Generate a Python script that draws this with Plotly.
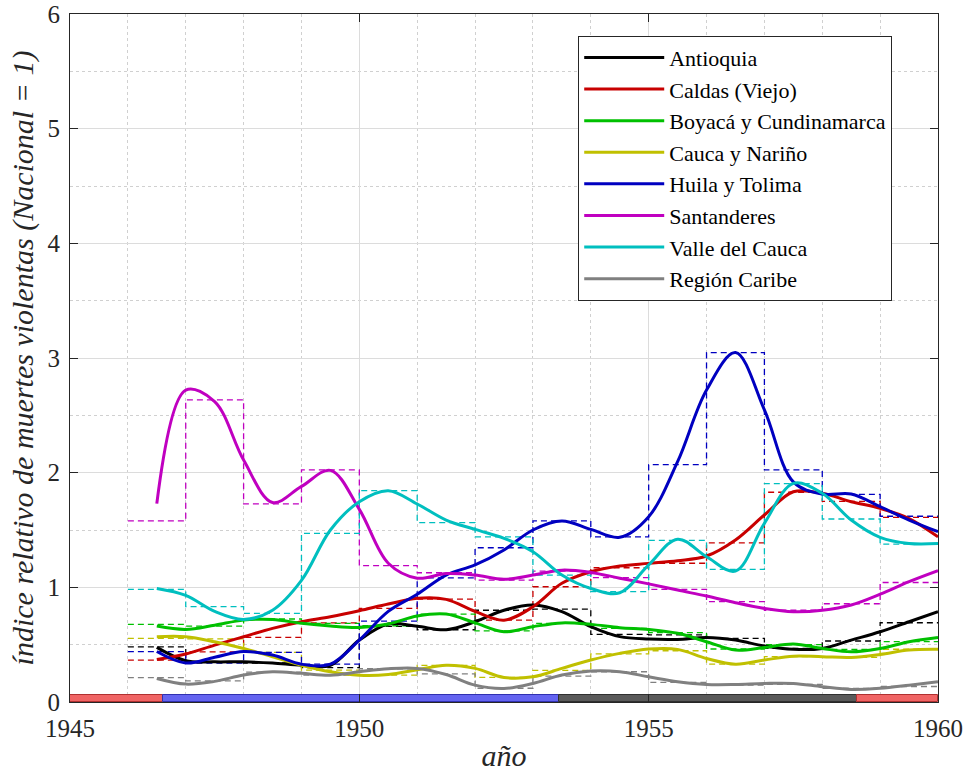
import plotly.graph_objects as go

# annual values (dashed steps), one per year 1946..1959
years = [1946, 1947, 1948, 1949, 1950, 1951, 1952, 1953, 1954, 1955, 1956, 1957, 1958, 1959]

antioquia = [0.48, 0.35, 0.34, 0.30, 0.66, 0.63, 0.80, 0.81, 0.59, 0.585, 0.555, 0.467, 0.532, 0.691]
caldas = [0.366, 0.438, 0.563, 0.69, 0.816, 0.897, 0.714, 1.005, 1.171, 1.21, 1.387, 1.829, 1.75, 1.61]
boyaca = [0.677, 0.662, 0.724, 0.686, 0.665, 0.767, 0.62, 0.686, 0.642, 0.605, 0.462, 0.50, 0.459, 0.526]
cauca = [0.555, 0.55, 0.433, 0.278, 0.235, 0.32, 0.214, 0.275, 0.42, 0.447, 0.33, 0.395, 0.39, 0.46]
huila = [0.44, 0.34, 0.432, 0.33, 0.706, 1.083, 1.345, 1.579, 1.44, 2.07, 3.047, 2.024, 1.81, 1.62]
santanderes = [1.579, 2.634, 1.727, 2.024, 1.189, 1.127, 1.063, 1.142, 1.084, 0.983, 0.875, 0.80, 0.857, 1.042]
valle = [0.982, 0.831, 0.773, 1.47, 1.843, 1.564, 1.44, 1.107, 0.962, 1.41, 1.156, 1.905, 1.596, 1.377]
caribe = [0.212, 0.185, 0.26, 0.235, 0.29, 0.245, 0.12, 0.226, 0.264, 0.171, 0.147, 0.153, 0.118, 0.135]

# smoothed curves
curve_years = [1946.5, 1947, 1947.5, 1948, 1948.5, 1949, 1949.5, 1950, 1950.5, 1951,
               1951.5, 1952, 1952.5, 1953, 1953.5, 1954, 1954.5, 1955, 1955.5, 1956,
               1956.5, 1957, 1957.5, 1958, 1958.5, 1959, 1959.5, 1960]

antioquia_s = [0.476, 0.36, 0.35, 0.35, 0.34, 0.32, 0.32, 0.54, 0.68, 0.66, 0.63, 0.70, 0.80, 0.846,
               0.788, 0.657, 0.57, 0.549, 0.546, 0.563, 0.54, 0.488, 0.459, 0.467, 0.54, 0.613, 0.70, 0.787]
caldas_s = [0.37, 0.418, 0.496, 0.569, 0.642, 0.70, 0.744, 0.796, 0.854, 0.904, 0.895, 0.79, 0.714, 0.83,
            1.035, 1.136, 1.186, 1.209, 1.232, 1.273, 1.413, 1.631, 1.834, 1.82, 1.747, 1.689, 1.60, 1.44]
boyaca_s = [0.662, 0.633, 0.67, 0.714, 0.72, 0.686, 0.662, 0.65, 0.68, 0.75, 0.767, 0.69, 0.613, 0.657,
            0.69, 0.677, 0.648, 0.633, 0.599, 0.526, 0.453, 0.476, 0.505, 0.467, 0.438, 0.467, 0.526, 0.563]
cauca_s = [0.569, 0.569, 0.525, 0.467, 0.394, 0.32, 0.263, 0.234, 0.24, 0.28, 0.32, 0.293, 0.214, 0.22,
           0.293, 0.366, 0.424, 0.462, 0.459, 0.38, 0.33, 0.366, 0.40, 0.395, 0.389, 0.415, 0.453, 0.459]
huila_s = [0.44, 0.34, 0.39, 0.44, 0.41, 0.33, 0.33, 0.54, 0.79, 0.94, 1.107, 1.195, 1.326, 1.50,
           1.578, 1.505, 1.436, 1.616, 2.096, 2.72, 3.047, 2.547, 1.92, 1.814, 1.814, 1.703, 1.587, 1.485]
santanderes_s = [1.73, 2.72, 2.62, 2.11, 1.74, 1.88, 2.02, 1.68, 1.21, 1.08, 1.12, 1.107, 1.07, 1.107,
                 1.15, 1.13, 1.08, 1.03, 0.976, 0.924, 0.866, 0.816, 0.787, 0.80, 0.846, 0.94, 1.05, 1.146]
valle_s = [0.99, 0.93, 0.79, 0.72, 0.80, 1.06, 1.50, 1.747, 1.843, 1.727, 1.587, 1.505, 1.427, 1.31,
           1.107, 0.99, 0.953, 1.195, 1.42, 1.267, 1.142, 1.558, 1.907, 1.82, 1.587, 1.436, 1.383, 1.383]
caribe_s = [0.205, 0.156, 0.18, 0.235, 0.264, 0.25, 0.234, 0.264, 0.29, 0.293, 0.24, 0.147, 0.118, 0.162,
            0.235, 0.27, 0.264, 0.22, 0.177, 0.153, 0.153, 0.162, 0.162, 0.133, 0.11, 0.12, 0.147, 0.177]

names = ["Antioquia", "Caldas (Viejo)", "Boyacá y Cundinamarca", "Cauca y Nariño",
         "Huila y Tolima", "Santanderes", "Valle del Cauca", "Región Caribe"]
colors = ["#000000", "#c80000", "#00c000", "#c0c000", "#0000c0", "#c000c0", "#00bfbf", "#808080"]
annual = [antioquia, caldas, boyaca, cauca, huila, santanderes, valle, caribe]
smooth = [antioquia_s, caldas_s, boyaca_s, cauca_s, huila_s, santanderes_s, valle_s, caribe_s]

# periods shown as a coloured band on the x axis
period_start = [1945, 1946.6, 1953.45, 1958.6]
period_end = [1946.6, 1953.45, 1958.6, 1960]
period_fill = ["#f06464", "#6464f0", "#5a5a5a", "#f06464"]
period_edge = ["#b03030", "#3030b0", "#303030", "#b03030"]
band_height = 0.058

FONT = "Liberation Serif"
AXCOL = "#262626"

fig = go.Figure()

# dashed annual steps
for vals, col in zip(annual, colors):
    fig.add_trace(go.Scatter(
        x=years + [years[-1] + 1], y=vals + [vals[-1]],
        mode="lines", line=dict(color=col, width=1.3, dash="6px,4px", shape="hv"),
        showlegend=False, hoverinfo="skip"
    ))

# smoothed lines
for vals, col, name in zip(smooth, colors, names):
    fig.add_trace(go.Scatter(
        x=curve_years, y=vals, name=name,
        mode="lines", line=dict(color=col, width=3, shape="spline", smoothing=1.0)
    ))

# period band
for s, e, fc, ec in zip(period_start, period_end, period_fill, period_edge):
    fig.add_trace(go.Bar(
        x=[(s + e) / 2], y=[band_height], width=[e - s], base=0,
        marker=dict(color=fc, line=dict(color=ec, width=1)),
        showlegend=False, hoverinfo="skip"
    ))

axis_common = dict(
    showline=True, linecolor=AXCOL, linewidth=1, mirror="ticks",
    ticks="inside", ticklen=8, tickcolor=AXCOL,
    showgrid=True, gridcolor="#dcdcdc", gridwidth=1,
    zeroline=False,
    tickfont=dict(size=25, color=AXCOL),
    ticklabeloverflow="allow",
    automargin=False,
)

fig.update_xaxes(
    range=[1945, 1960], tickvals=[1945, 1950, 1955, 1960],
    minor=dict(dtick=1, tick0=1945, showgrid=True, gridcolor="#d0d0d0", griddash="dot", ticks=""),
    title=dict(text="<i>año</i>", font=dict(size=30, color=AXCOL), standoff=3),
    ticklabelstandoff=4,
    **axis_common
)
fig.update_yaxes(
    range=[0, 6], tickvals=[0, 1, 2, 3, 4, 5, 6],
    minor=dict(dtick=0.5, tick0=0, showgrid=True, gridcolor="#d0d0d0", griddash="dot", ticks=""),
    title=dict(text="<i>índice relativo de muertes violentas (Nacional = 1)</i>",
               font=dict(size=30, color=AXCOL), standoff=5),
    ticklabelstandoff=4,
    **axis_common
)

fig.update_layout(
    width=967, height=776,
    margin=dict(l=70, r=29, t=14, b=74),
    plot_bgcolor="white", paper_bgcolor="white",
    barmode="overlay", bargap=0,
    legend=dict(
        x=0.5855, y=0.9685, xanchor="left", yanchor="top",
        bgcolor="white", bordercolor=AXCOL, borderwidth=1,
        font=dict(size=22, color="#000000"),
        itemwidth=80, tracegroupgap=0,
    ),
    font=dict(family=FONT, size=20),
)

# drop the page's default body margin so the figure fills the window
fig.write_html("out.html", config={"displayModeBar": False},
               post_script="document.body.style.margin='0';document.body.style.overflow='hidden';")
